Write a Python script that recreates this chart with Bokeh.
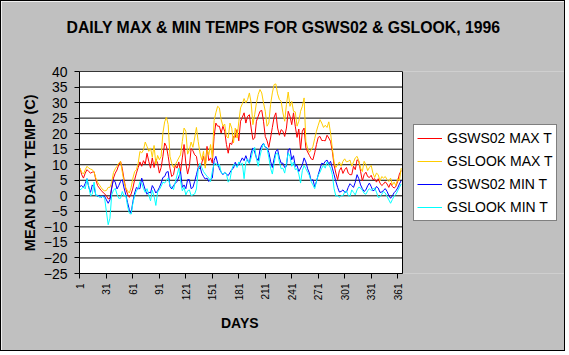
import math
from bokeh.plotting import figure
from bokeh.models import Range1d, FixedTicker, Legend, LegendItem, Title
from bokeh.embed import file_html
from bokeh.resources import INLINE

# ---- data (every 2nd day) ----
days = list(range(1, 366, 2))

gsws02_max = [
    8.9, 6.8, 5.7, 7.3, 8.4, 7.8, 7.3, 7.6, 7.8, 5.2, 3.3, 2.5, 1.7, 1.2, 0.6, 0.0, -1.0, -0.8, 2.7, 5.7,
    7.3, 8.3, 10.0, 11.1, 8.7, 5.2, 2.2, 0.5, -0.5, 0.6, 2.5, 5.2, 7.3, 9.1, 10.9, 9.5, 11.3, 10.2, 13.7, 11.1,
    8.9, 12.2, 9.1, 11.9, 10.5, 7.3, 9.1, 12.7, 17.0, 15.9, 12.7, 8.9, 6.2, 6.8, 9.8, 8.9, 10.9, 7.8, 12.2, 16.5,
    10.5, 7.0, 9.5, 15.2, 14.5, 13.2, 12.7, 9.1, 8.7, 10.5, 12.7, 9.6, 15.9, 11.3, 12.2, 10.5, 19.1, 23.4, 22.4, 22.4,
    20.2, 22.4, 20.8, 16.5, 13.7, 17.0, 16.5, 19.1, 18.8, 21.3, 17.7, 24.0, 25.3, 26.7, 23.4, 25.6, 26.1, 21.8, 18.1, 18.6,
    24.0, 25.6, 27.2, 27.5, 24.0, 19.1, 17.7, 15.6, 18.6, 22.0, 25.3, 26.7, 21.8, 19.5, 21.3,
    20.8, 19.1, 21.8, 27.2, 25.6, 22.9, 26.7, 22.4, 18.8, 21.5, 14.8, 20.8, 21.8, 15.4, 14.1, 13.0, 11.9, 11.6, 13.8, 16.5,
    18.8, 19.1, 17.8, 17.8, 17.7, 19.5, 18.6, 17.5, 14.3, 9.8, 7.3, 5.2, 8.1, 9.1, 7.2, 8.4, 9.1, 7.3, 6.8, 6.8,
    9.5, 8.4, 11.6, 11.1, 7.8, 4.8, 6.8, 7.6, 6.2, 5.9, 6.6, 5.2, 5.5, 4.4, 5.5, 4.1, 3.3, 3.8, 4.5, 3.8,
    2.7, 4.1, 3.0, 2.5, 3.0, 4.6, 7.0, 8.1,
]

gslook_max = [
    8.9, 7.6, 7.0, 8.4, 9.5, 8.9, 8.6, 8.4, 7.6, 5.7, 4.4, 3.5, 2.7, 1.9, 1.6, 1.7, 2.7, 2.7, 4.4, 7.5,
    8.7, 9.5, 10.5, 11.1, 7.6, 4.4, 2.5, 1.6, 0.9, 2.7, 5.7, 7.8, 8.4, 10.5, 14.3, 13.8, 14.8, 17.3, 15.9, 14.3,
    15.4, 12.4, 16.2, 10.2, 13.0, 11.6, 12.7, 20.2, 23.8, 25.3, 22.9, 12.7, 10.5, 9.1, 10.0, 11.1, 12.2, 13.2, 17.5, 21.8,
    20.8, 13.4, 14.8, 17.3, 15.6, 18.6, 22.0, 17.5, 13.8, 11.6, 14.3, 8.9, 14.8, 13.2, 16.5, 12.2, 24.2, 26.7, 28.8, 28.3,
    24.5, 22.4, 23.1, 19.1, 18.6, 23.4, 21.8, 17.0, 21.8, 18.6, 23.8, 28.3, 29.6, 31.3, 29.9, 31.0, 33.1, 29.9, 22.9, 26.1,
    29.9, 32.6, 34.2, 33.1, 29.9, 27.2, 22.4, 23.4, 29.4, 33.1, 35.8, 36.0, 32.8, 31.0, 30.4,
    26.7, 24.0, 29.4, 33.4, 28.8, 30.4, 27.2, 27.0, 22.4, 24.0, 27.2, 28.8, 31.5, 17.5, 15.2, 14.0, 14.8, 15.9, 18.4, 20.8,
    22.7, 24.5, 23.4, 22.0, 22.7, 22.0, 23.8, 20.2, 15.2, 10.9, 9.1, 10.0, 10.9, 9.5, 11.1, 11.9, 10.9, 11.1, 11.5, 9.5,
    10.9, 12.2, 12.7, 11.3, 8.9, 7.8, 11.1, 10.0, 8.1, 9.1, 9.8, 7.3, 5.9, 7.3, 6.8, 4.8, 6.2, 5.7, 6.2, 5.2,
    4.6, 5.7, 3.5, 4.4, 3.3, 5.5, 4.8, 8.9,
]

gsws02_min = [
    3.0, 3.3, 2.7, 4.0, 5.5, 2.7, 1.1, 3.5, 2.9, 0.2, -0.1, 0.1, -0.5, 0.0, -0.2, -1.3, -2.4, -1.3, 2.5, 5.2,
    4.4, 2.2, 3.3, 4.6, 5.2, 2.5, 0.3, -2.2, -4.5, -5.6, -1.8, 0.9, 2.7, 2.3, 2.3, 5.7, 3.8, 1.9, 0.5, 1.2,
    0.9, 3.3, 2.3, 0.9, 1.6, 2.7, 4.1, 5.9, 6.2, 7.6, 7.8, 3.0, 2.2, 3.3, 4.0, 4.6, 6.1, 7.8, 2.7, 3.5,
    2.3, 5.2, 5.2, 2.3, 2.7, 4.6, 6.8, 9.1, 9.5, 7.3, 6.2, 5.4, 5.7, 4.6, 5.2, 5.7, 11.4, 12.7, 10.5, 8.7,
    7.6, 6.8, 7.5, 7.0, 6.5, 7.5, 8.4, 8.9, 10.8, 9.5, 10.0, 11.1, 12.2, 11.3, 12.9, 11.3, 10.5, 13.8, 15.4, 14.1,
    12.2, 11.3, 14.8, 16.2, 16.9, 15.6, 15.4, 14.0, 11.1, 9.1, 11.9, 14.3, 14.9, 12.2, 10.5,
    10.5, 9.1, 9.5, 14.8, 15.2, 11.6, 12.9, 9.5, 9.8, 7.8, 8.9, 10.0, 12.2, 10.9, 8.7, 7.3, 4.8, 5.2, 2.9, 4.6,
    6.8, 8.7, 10.5, 10.2, 11.1, 11.5, 10.2, 11.1, 8.9, 6.8, 4.6, 2.7, 1.2, 1.4, 1.9, 1.2, 1.2, 2.7, 3.9, 3.3,
    2.7, 4.4, 6.8, 5.5, 3.5, 2.3, 1.4, 1.9, 3.2, 4.1, 3.0, 1.6, 1.9, 3.0, 2.5, 1.1, 1.2, 1.8, 2.3, 1.4,
    0.1, -0.8, 0.0, 1.0, 1.6, 2.5, 3.8, 4.9,
]

gslook_min = [
    1.9, 2.3, 2.9, 2.2, 5.5, 3.0, 0.0, 0.5, 4.4, 0.1, 0.2, -0.5, -0.3, -0.2, -0.8, -5.1, -9.3, -7.2, 0.3, 1.8,
    2.4, 0.5, -0.8, -0.8, 1.4, -0.1, 0.1, -3.4, -5.6, -5.9, -2.4, 0.1, 1.6, 2.3, 4.6, 4.1, 2.3, 1.1, 2.3, 0.3,
    -1.6, 1.8, -0.1, -3.1, 1.2, 2.0, 3.0, 4.4, 4.1, 4.9, 5.7, 3.5, 2.7, 2.0, 4.4, 6.6, 8.9, 4.8, 1.6, 2.7,
    0.3, 1.6, 1.9, 0.1, 0.3, 0.6, 2.2, 8.4, 10.5, 9.1, 7.8, 7.0, 6.3, 5.7, 4.6, 7.8, 10.2, 10.5, 9.5, 10.2,
    7.5, 7.0, 7.6, 7.0, 4.4, 5.2, 8.4, 10.0, 10.0, 9.1, 10.9, 10.0, 10.5, 5.5, 10.9, 11.9, 10.4, 12.2, 14.5, 15.6,
    11.9, 9.5, 12.7, 15.2, 16.8, 15.6, 15.2, 12.4, 8.9, 7.0, 10.4, 13.4, 13.8, 10.9, 8.7,
    8.9, 7.3, 10.5, 13.8, 12.7, 9.5, 10.9, 8.4, 8.7, 7.0, 4.1, 8.1, 9.8, 8.7, 7.6, 6.5, 4.6, 3.5, 2.3, 4.6,
    6.6, 7.6, 8.9, 9.8, 8.9, 10.9, 10.0, 8.9, 6.8, 2.3, -0.1, 0.1, -0.5, 0.1, 0.0, 1.2, 1.6, 0.1, -0.2, 1.9,
    1.1, 0.3, 1.9, 2.8, 2.5, 1.8, 0.8, 0.5, 1.6, 2.3, 1.7, 2.2, 2.5, 1.2, -0.5, -0.3, 0.5, 1.4, 0.9, -0.2,
    -1.3, -2.4, -1.2, -0.1, 0.5, 1.6, 2.7, 3.8,
]

series_names = ["GSWS02 MAX T", "GSLOOK MAX T", "GSWS02 MIN T", "GSLOOK MIN T"]
series_colors = ["#ff0000", "#ffcc00", "#0000ff", "#00ffff"]
x_ticks = list(range(1, 362, 30))
y_ticks = list(range(-25, 41, 5))
day_bounds = (0.5, 366.5)
temp_bounds = (-25, 40)

FONT = "Liberation Sans"
GRAY = "#c0c0c0"

# geometry (figure pixels): plot area 78..401 wide; the frame continues to the right
# edge so the legend (which sits in the grey area) is not clipped.
W, H = 565, 351
LEFT, PLOT_RIGHT = 78, 401
x_end = day_bounds[0] + (day_bounds[1] - day_bounds[0]) * (W - LEFT) / (PLOT_RIGHT - LEFT)

p = figure(
    width=W, height=H,
    x_range=Range1d(day_bounds[0], x_end), y_range=Range1d(*temp_bounds),
    output_backend="svg", toolbar_location=None,
    min_border_left=LEFT, min_border_right=0, min_border_top=70, min_border_bottom=79,
    background_fill_color=GRAY, border_fill_color=GRAY,
    outline_line_color=None,
)
p.styles = {"border": "1px solid black"}

# spacer panel next to the frame, then the real title above it
spacer = Title(text=" ", text_font_size="1px", standoff=33, text_color=GRAY)
p.add_layout(spacer, "above")
title = Title(text="DAILY MAX & MIN TEMPS FOR GSWS02 & GSLOOK, 1996", align="left", offset=-13,
              text_font=FONT, text_font_size="15.8px", text_font_style="bold",
              text_color="black", standoff=0)
p.add_layout(title, "above")

# white plot area with black border
p.quad(left=[day_bounds[0]], right=[day_bounds[1]], bottom=[temp_bounds[0]], top=[temp_bounds[1]],
       fill_color="white", line_color="black", line_width=1)
# horizontal gridlines across the plot area only
p.segment(x0=[day_bounds[0]] * len(y_ticks), x1=[day_bounds[1]] * len(y_ticks),
          y0=y_ticks, y1=y_ticks, line_color="black", line_width=1)

renderers = []
for vals, col in zip([gsws02_max, gslook_max, gsws02_min, gslook_min], series_colors):
    r = p.line(days, vals, line_color=col, line_width=1)
    renderers.append(r)

p.xgrid.visible = False
p.ygrid.visible = False

# axes
p.xaxis.ticker = FixedTicker(ticks=x_ticks)
p.xaxis.bounds = day_bounds
p.yaxis.ticker = FixedTicker(ticks=y_ticks)

for ax in (p.xaxis[0], p.yaxis[0]):
    ax.axis_line_color = "black"
    ax.major_tick_line_color = "black"
    ax.major_tick_in = 0
    ax.major_tick_out = 5
    ax.minor_tick_in = 0
    ax.minor_tick_out = 0
    ax.major_label_text_font = FONT
    ax.major_label_text_color = "black"
    ax.axis_label_text_font = FONT
    ax.axis_label_text_font_style = "bold"
    ax.axis_label_text_color = "black"

p.yaxis.major_label_text_font_size = "14px"
p.yaxis.major_label_standoff = 7
p.yaxis.axis_label = "MEAN DAILY TEMP (C)"
p.yaxis.axis_label_text_font_size = "14.5px"
p.yaxis.axis_label_standoff = 3

p.xaxis.major_label_text_font_size = "10px"
p.xaxis.major_label_orientation = math.pi / 2
p.xaxis.major_label_standoff = 5

# x axis title, centred under the plot area
xtitle = Title(text="DAYS", align="left", offset=141.5, vertical_align="top",
               text_font=FONT, text_font_size="14px", text_font_style="bold",
               text_color="black", standoff=22)
p.add_layout(xtitle, "below")

legend = Legend(
    items=[LegendItem(label=n, renderers=[r]) for n, r in zip(series_names, renderers)],
    location=(334, 52.5), orientation="vertical",
    label_text_font=FONT, label_text_font_size="14px", label_text_color="black",
    glyph_width=25, glyph_height=20, label_height=20, label_standoff=5,
    padding=3, spacing=3, margin=0,
    border_line_color="black", border_line_width=1,
    background_fill_color="white", background_fill_alpha=1,
)
p.add_layout(legend, "center")

open("out.html", "w").write(file_html(p, INLINE))
